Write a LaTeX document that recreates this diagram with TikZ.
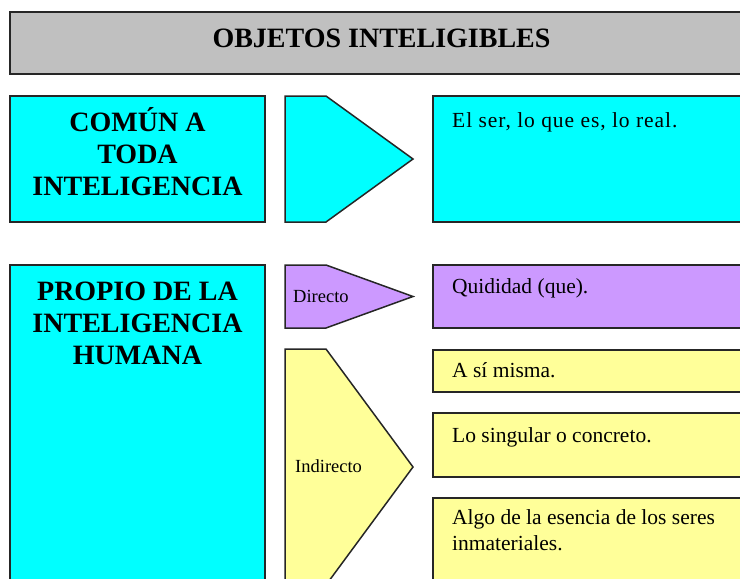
\documentclass[tikz,border=0pt]{standalone}
\usepackage{fontspec}
\setmainfont{Liberation Serif}
\definecolor{hdrgray}{HTML}{C0C0C0}
\definecolor{cyanfill}{HTML}{00FFFF}
\definecolor{purplefill}{HTML}{CC99FF}
\definecolor{yellowfill}{HTML}{FFFF99}
\definecolor{edge}{HTML}{262626}
\tikzset{
  shapebox/.style={draw=edge, line width=1.5pt, line join=miter},
  bigtxt/.style={inner sep=0pt, align=center, font=\fontsize{28}{32}\selectfont\bfseries},
  smalltxt/.style={inner sep=0pt, anchor=base west, align=left, font=\fontsize{21.5}{26}\selectfont},
  tinytxt/.style={inner sep=0pt, anchor=base west, font=\fontsize{18.5}{22}\selectfont}
}
\begin{document}
\begin{tikzpicture}[x=1pt,y=-1pt]
\useasboundingbox (0,0) rectangle (740,579);
\begin{scope}
\clip (0,0) rectangle (740,579);
% header
\draw[shapebox, fill=hdrgray] (10,12) rectangle (753,74);
% row 1
\draw[shapebox, fill=cyanfill] (10,96) rectangle (265,222);
\draw[shapebox, fill=cyanfill] (285,96) -- (326,96) -- (413,159) -- (326,222) -- (285,222) -- cycle;
\draw[shapebox, fill=cyanfill] (433,96) rectangle (760,222);
% row 2
\draw[shapebox, fill=cyanfill] (10,265) rectangle (265,600);
\draw[shapebox, fill=purplefill] (285,265) -- (326,265) -- (413,296.5) -- (326,328) -- (285,328) -- cycle;
\draw[shapebox, fill=purplefill] (433,265) rectangle (760,328);
\draw[shapebox, fill=yellowfill] (285,349) -- (326,349) -- (413,467) -- (326,585) -- (285,585) -- cycle;
\draw[shapebox, fill=yellowfill] (433,350) rectangle (760,392);
\draw[shapebox, fill=yellowfill] (433,413) rectangle (760,477);
\draw[shapebox, fill=yellowfill] (433,498) rectangle (760,600);
\end{scope}
% texts
\node[bigtxt, anchor=base] (title) at (381.5,47) {OBJETOS INTELIGIBLES};
\node[bigtxt, anchor=base] (comun) at (137.5,195) {COMÚN A\\TODA\\INTELIGENCIA};
\node[bigtxt, anchor=base] (propio) at (137.5,364) {PROPIO DE LA\\INTELIGENCIA\\HUMANA};
\node[smalltxt, font=\fontsize{21.5}{26}\selectfont\addfontfeature{LetterSpace=4.4}] (ser) at (452,127) {El ser, lo que es, lo real.};
\node[smalltxt] (quid) at (452,293) {Quididad (que).};
\node[smalltxt] (asi) at (452,377) {A sí misma.};
\node[smalltxt] (sing) at (452,442) {Lo singular o concreto.};
\node[smalltxt] (algo) at (452,550) {Algo de la esencia de los seres\\inmateriales.};
\node[tinytxt] (dir) at (293,302) {Directo};
\node[tinytxt] (ind) at (295,472) {Indirecto};
\end{tikzpicture}
\end{document}
